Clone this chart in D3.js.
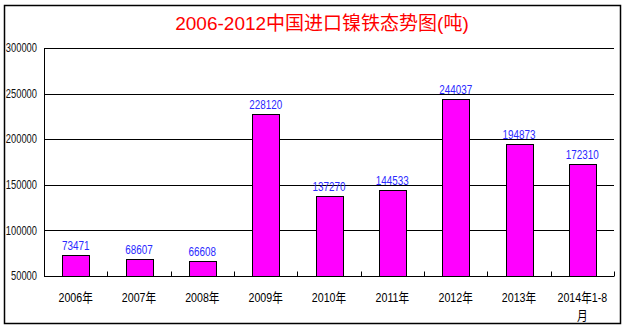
<!DOCTYPE html>
<html><head><meta charset="utf-8">
<script src="https://cdn.jsdelivr.net/npm/d3@7"></script>
<style>body{margin:0;background:#fff}svg{display:block}</style>
</head><body>
<script>
const categories = ["2006年","2007年","2008年","2009年","2010年","2011年","2012年","2013年","2014年1-8月"];
const values = [73471, 68607, 66608, 228120, 137270, 144533, 244037, 194873, 172310];
const yTicks = [50000, 100000, 150000, 200000, 250000, 300000];
const title = "2006-2012中国进口镍铁态势图(吨)";

const W = 627, H = 330;
const m = {left: 44, right: 13, top: 48, bottom: 54};
const font = "'Liberation Sans','Noto Sans CJK SC',sans-serif";

const svg = d3.select("body").append("svg").attr("width", W).attr("height", H);

svg.append("rect").attr("x", 4.5).attr("y", 5.5).attr("width", 616).attr("height", 318)
  .attr("fill", "#fff").attr("stroke", "#000").attr("stroke-width", 1.5);

svg.append("text").attr("x", 322).attr("y", 30).attr("text-anchor", "middle")
  .attr("fill", "#ff0000").style("font-family", font).style("font-size", "19px")
  .text(title);

const x = d3.scaleBand().domain(categories).range([m.left, W - m.right]).paddingInner(0.58).paddingOuter(0.29);
const band = d3.scaleBand().domain(categories).range([m.left, W - m.right]);
const y = d3.scaleLinear().domain([50000, 300000]).range([H - m.bottom, m.top]);

// gridlines
svg.append("g").selectAll("line").data(yTicks.slice(1)).join("line")
  .attr("x1", m.left).attr("x2", W - m.right)
  .attr("y1", d => Math.round(y(d)) + 0.5).attr("y2", d => Math.round(y(d)) + 0.5)
  .attr("stroke", "#000").attr("stroke-width", 1);

// y axis line
svg.append("line").attr("x1", m.left + 0.5).attr("x2", m.left + 0.5)
  .attr("y1", y(300000)).attr("y2", y(50000)).attr("stroke", "#000");

// y tick labels (condensed)
svg.append("g").selectAll("text").data(yTicks).join("text")
  .attr("transform", d => `translate(37,${y(d)}) scale(0.78,1)`)
  .attr("dy", "0.35em").attr("text-anchor", "end").attr("fill", "#111")
  .style("font-family", font).style("font-size", "12px")
  .text(d => d3.format("d")(d));

// x axis with inward ticks at band boundaries
const xAxisY = Math.round(y(50000)) + 0.5;
svg.append("line").attr("x1", m.left).attr("x2", W - m.right).attr("y1", xAxisY).attr("y2", xAxisY).attr("stroke", "#000");
const bounds = categories.map(c => band(c) + band.bandwidth());
svg.append("g").selectAll("line").data(bounds).join("line")
  .attr("x1", d => Math.round(d) + 0.5).attr("x2", d => Math.round(d) + 0.5)
  .attr("y1", xAxisY).attr("y2", xAxisY - 5).attr("stroke", "#000");

// bars
svg.append("g").selectAll("rect").data(values).join("rect")
  .attr("x", (d, i) => Math.round(x(categories[i])) + 0.5)
  .attr("width", Math.round(x.bandwidth()))
  .attr("y", d => Math.round(y(d)) + 0.5)
  .attr("height", d => Math.round(y(50000)) - Math.round(y(d)))
  .attr("fill", "#ff00ff").attr("stroke", "#000").attr("stroke-width", 1);

// value labels (condensed)
svg.append("g").selectAll("text").data(values).join("text")
  .attr("transform", (d, i) => `translate(${x(categories[i]) + x.bandwidth() / 2},${y(d) - 5}) scale(0.76,1)`)
  .attr("text-anchor", "middle").attr("fill", "#2a2aff")
  .style("font-family", font).style("font-size", "13px")
  .text(d => d);

// category labels (condensed, last one wrapped)
svg.append("g").selectAll("text").data(categories).join("text")
  .attr("transform", d => `translate(${band(d) + band.bandwidth() / 2},302) scale(0.82,1)`)
  .attr("text-anchor", "middle").attr("fill", "#000")
  .style("font-family", font).style("font-size", "13px")
  .each(function(d) {
    const t = d3.select(this);
    if (d.length > 6) {
      t.append("tspan").attr("x", 0).text(d.slice(0, d.length - 1));
      t.append("tspan").attr("x", 0).attr("dy", 18).text(d.slice(-1));
    } else t.text(d);
  });
</script>
</body></html>
